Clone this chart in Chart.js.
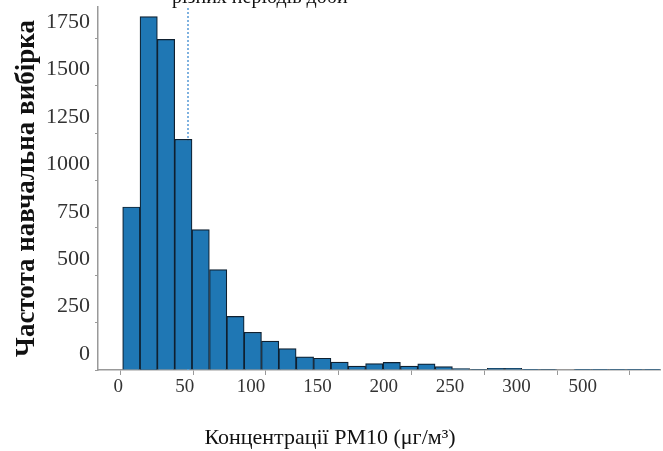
<!DOCTYPE html>
<html>
<head>
<meta charset="utf-8">
<script src="https://cdn.jsdelivr.net/npm/chart.js@4.4.0/dist/chart.umd.min.js"></script>
<style>
  html, body { margin: 0; padding: 0; background: #fff; overflow: hidden; }
  #wrap { position: relative; width: 663px; height: 451px; }
  canvas { position: absolute; left: 0; top: 0; }
  #topTitle { position: absolute; left: 172px; top: -14px; font: 20px/20px "Liberation Serif", serif; color: #111; white-space: nowrap; }
</style>
</head>
<body>
<div id="wrap">
  <canvas id="histChart" width="663" height="451"></canvas>
  <div id="topTitle">різних періодів доби</div>
</div>
<script>
// центри інтервалів гістограми (мкг/м3)
const binCenters = [7.6, 19.5, 31.4, 43.3, 55.2, 67.2, 79.1, 91.0, 102.9, 114.8, 126.8, 138.7, 150.6, 162.5, 174.4, 186.4,
  198.3, 210.2, 222.1, 234.0, 246.0, 257.9, 269.8, 281.7, 293.6, 305.6, 317.5, 329.4, 341.3, 353.2, 365.2];
// частоти
const counts = [860, 1864, 1744, 1217, 741, 530, 283, 199, 152, 113, 69, 62, 42, 21, 34, 40,
  21, 32, 18, 8, 3, 9, 9, 4, 3, 0, 4, 4, 1, 1, 1];
const meanValue = 46.5;

const xTickValues = [0, 50, 100, 150, 200, 250, 300, 350];
const xTickLabels = ["0", "50", "100", "150", "200", "250", "300", "500"];
const yMax = 1915;

const serif = "'Liberation Serif', 'Times New Roman', serif";

new Chart(document.getElementById("histChart"), {
  type: "bar",
  data: {
    datasets: [{
      label: "Частота",
      data: binCenters.map((c, i) => ({ x: c, y: counts[i] })),
      backgroundColor: "#1f77b4",
      borderColor: "#0f2030",
      borderWidth: 1.2,
      barPercentage: 1,
      categoryPercentage: 1
    }, {
      type: "line",
      label: "Середнє",
      data: [{ x: meanValue, y: 0 }, { x: meanValue, y: yMax }],
      borderColor: "#7fb2e0",
      borderWidth: 2,
      borderDash: [2, 2],
      pointRadius: 0
    }]
  },
  options: {
    responsive: false,
    animation: false,
    layout: { padding: { left: 0, right: 3, top: 7, bottom: 0 } },
    plugins: {
      legend: { display: false },
      tooltip: { enabled: false },
      title: {
        display: true,
        position: "bottom",
        text: "Концентрації PM10 (μг/м³)",
        font: { family: serif, size: 22, weight: "normal" },
        color: "#111",
        padding: 0
      }
    },
    scales: {
      x: {
        type: "linear",
        position: "bottom",
        weight: 0,
        min: -15.3,
        max: 370.6,
        offset: false,
        grid: { display: true, drawOnChartArea: false, offset: false, tickLength: 5, color: "#999" },
        border: { color: "#999", width: 1.5 },
        ticks: { display: false },
        afterBuildTicks: a => { a.ticks = xTickValues.map(v => ({ value: v })); },
        afterFit: a => { a.height = 6; a.paddingLeft = 0; a.paddingRight = 0; }
      },
      xl: {
        type: "linear",
        position: "bottom",
        weight: 1,
        min: -0.306,
        max: 8.163,
        offset: false,
        grid: { display: false, drawTicks: false, offset: false },
        border: { display: false },
        ticks: {
          font: { family: serif, size: 19 },
          color: "#333",
          padding: 0,
          maxRotation: 0,
          autoSkip: false,
          callback: v => xTickLabels[v]
        },
        afterBuildTicks: a => { a.ticks = xTickLabels.map((_, i) => ({ value: i })); },
        afterFit: a => { a.height = 48.6; a.paddingLeft = 0; a.paddingRight = 0; }
      },
      y: {
        min: 0,
        max: yMax,
        grid: { display: true, drawOnChartArea: false, tickLength: 3, color: "#999" },
        border: { color: "#999", width: 1.5 },
        ticks: {
          stepSize: 250,
          includeBounds: false,
          font: { family: serif, size: 22 },
          color: "#333",
          padding: 5,
          labelOffset: -16,
          callback: v => String(v)
        },
        title: {
          display: true,
          text: "Частота навчальна вибірка",
          font: { family: serif, size: 27, weight: "bold" },
          color: "#111",
          padding: { top: 11, bottom: 0 }
        },
        afterFit: a => { a.width = 98; a.paddingTop = 0; a.paddingBottom = 0; }
      }
    }
  }
});
</script>
</body>
</html>
